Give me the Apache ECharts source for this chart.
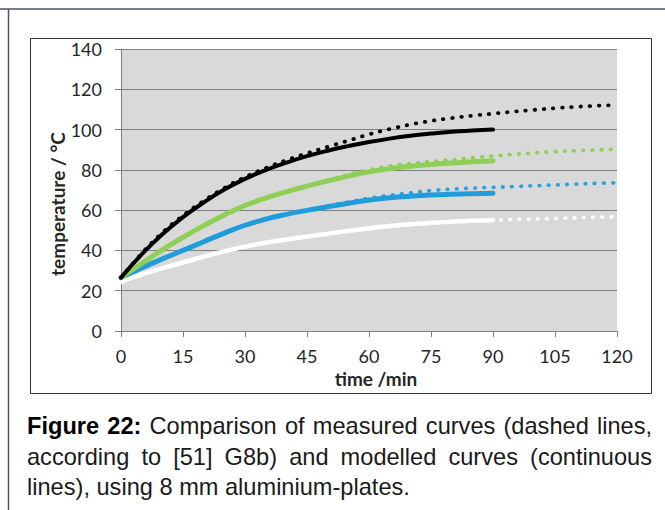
<!DOCTYPE html>
<html>
<head>
<meta charset="utf-8">
<script src="https://cdn.jsdelivr.net/npm/echarts@6/dist/echarts.min.js"></script>
<style>
  html, body { margin: 0; padding: 0; background: #fff; }
  #wrap { position: relative; width: 665px; height: 510px; overflow: hidden; }
  #chart { position: absolute; left: 0; top: 0; width: 665px; height: 510px; }
  #caption {
    position: absolute; left: 27px; top: 411px; width: 625px;
    font-family: "Liberation Sans", Arial, sans-serif; font-size: 23.6px;
    line-height: 30.5px; color: #1a1a1a;
  }
  #caption .j { text-align: justify; text-align-last: justify; }
  #caption b { color: #000; }
</style>
</head>
<body>
<div id="wrap">
  <div id="chart"></div>
  <div id="caption">
    <div class="j"><b>Figure 22:</b> Comparison of measured curves (dashed lines,</div>
    <div class="j">according to [51] G8b) and modelled curves (continuous</div>
    <div>lines), using 8 mm aluminium-plates.</div>
  </div>
</div>
<script>
// time grids (min)
const modelTime = [0, 5, 10, 15, 20, 25, 30, 35, 40, 45, 50, 55, 60, 65, 70, 75, 80, 85, 90];
const measTime = [0, 5, 10, 15, 20, 25, 30, 35, 40, 45, 50, 55, 60, 65, 70, 75, 80, 85, 90, 95, 100, 105, 110, 115, 120];

// modelled temperatures (°C), continuous lines
const modelBlack = [26.5, 38, 48, 56.5, 63.8, 70.2, 75.5, 79.9, 83.6, 86.8, 89.5, 91.8, 93.8, 95.5, 96.9, 98, 98.9, 99.5, 100];
const modelGreen = [26.5, 33.5, 40.3, 46.5, 52.3, 57.6, 62.3, 66, 69.1, 71.9, 74.5, 76.9, 79, 80.6, 81.8, 82.7, 83.4, 84, 84.4];
const modelBlue = [26.5, 31.3, 35.8, 40, 44.3, 48.6, 52.5, 55.5, 57.9, 59.9, 61.7, 63.4, 65, 66.1, 66.9, 67.5, 67.9, 68.2, 68.4];
const modelWhite = [24.5, 28.1, 31.2, 34, 36.9, 39.6, 41.9, 43.8, 45.4, 46.9, 48.3, 49.7, 51, 52.1, 53, 53.7, 54.3, 54.7, 55];

// measured temperatures (°C), dotted lines
const measBlack = [26.5, 38.5, 48.8, 57.3, 64.6, 71, 76.4, 80.9, 84.8, 88.2, 91.4, 94.5, 97.6, 100.2, 102.5, 104.3, 105.7, 106.9, 107.9, 108.9, 109.8, 110.6, 111.3, 111.8, 112.2];
const measGreen = [26.5, 33.2, 40, 46.2, 52, 57.3, 62, 65.8, 69, 72, 74.9, 77.6, 80, 81.9, 83.1, 84.1, 85, 86, 86.9, 87.7, 88.4, 89, 89.5, 89.9, 90.2];
const measBlue = [26.5, 31.1, 35.6, 39.8, 44.1, 48.4, 52.3, 55.4, 57.9, 60, 62.1, 64, 65.9, 67.4, 68.6, 69.7, 70.4, 70.9, 71.3, 71.7, 72.1, 72.5, 72.9, 73.3, 73.6];
const measWhite = [24.3, 27.9, 31, 33.8, 36.7, 39.4, 41.7, 43.6, 45.2, 46.7, 48.1, 49.5, 50.8, 51.9, 52.8, 53.5, 54.1, 54.6, 55, 55.3, 55.6, 55.9, 56.2, 56.5, 56.7];

// axis ticks
const xTicks = { min: 0, max: 120, step: 15 };
const yTicks = { min: 0, max: 140, step: 20 };

const pair = (ts, vs) => ts.map((t, i) => [t, vs[i]]);

const dotted = (name, color, ts, vs) => ({
  name, type: 'line', data: pair(ts, vs), symbol: 'none', smooth: 0.5, z: 2,
  lineStyle: { color, width: 3.8, type: [0.5, 8.7], cap: 'round' }
});
const solid = (name, color, ts, vs, w) => ({
  name, type: 'line', data: pair(ts, vs), symbol: 'none', smooth: 0.5, z: 3,
  lineStyle: { color, width: w, cap: 'round' }
});

const labelFont = { fontFamily: 'Lato, "Open Sans", sans-serif', fontSize: 18, color: '#262626' };
const titleFont = 'bold 19px Lato, "Open Sans", sans-serif';

const chart = echarts.init(document.getElementById('chart'), null, { renderer: 'svg' });
chart.setOption({
  animation: false,
  backgroundColor: '#fff',
  grid: { left: 121, right: 48, top: 49, bottom: 179, show: true, backgroundColor: '#d9d9d9', borderWidth: 0 },
  xAxis: {
    type: 'value', min: xTicks.min, max: xTicks.max, interval: xTicks.step,
    axisLine: { show: true, lineStyle: { color: '#808080', width: 1 } },
    axisTick: { show: true, length: 6, lineStyle: { color: '#808080' } },
    axisLabel: Object.assign({ margin: 16 }, labelFont),
    splitLine: { show: false }
  },
  yAxis: {
    type: 'value', min: yTicks.min, max: yTicks.max, interval: yTicks.step,
    axisLine: { show: true, lineStyle: { color: '#808080', width: 1 } },
    axisTick: { show: true, length: 6, lineStyle: { color: '#808080' } },
    axisLabel: Object.assign({ margin: 19 }, labelFont),
    splitLine: { show: true, lineStyle: { color: '#808080', width: 1.2 } }
  },
  graphic: [
    // figure frame
    { type: 'line', shape: { x1: 0, y1: 9, x2: 665, y2: 9 }, style: { stroke: '#4a5566', lineWidth: 1.5 } },
    { type: 'line', shape: { x1: 8.5, y1: 9, x2: 8.5, y2: 510 }, style: { stroke: '#4a5566', lineWidth: 1.5 } },
    { type: 'rect', shape: { x: 30.5, y: 38.5, width: 621, height: 355 }, style: { fill: 'none', stroke: '#333', lineWidth: 1 } },
    // axis titles
    { type: 'text', x: 376, y: 378, style: { text: 'time /min', align: 'center', verticalAlign: 'middle',
      font: titleFont, fill: '#262626' } },
    { type: 'text', x: 57.5, y: 204, rotation: Math.PI / 2, style: { text: 'temperature / °C', align: 'center', verticalAlign: 'middle',
      font: titleFont, fill: '#262626' } }
  ],
  series: [
    dotted('measured white', '#ffffff', measTime, measWhite),
    dotted('measured blue', '#2aa2dc', measTime, measBlue),
    dotted('measured green', '#8fcf55', measTime, measGreen),
    dotted('measured black', '#000000', measTime, measBlack),
    solid('modelled white', '#ffffff', modelTime, modelWhite, 4.5),
    solid('modelled blue', '#1f9ddb', modelTime, modelBlue, 5),
    solid('modelled green', '#8fcf55', modelTime, modelGreen, 5),
    solid('modelled black', '#000000', modelTime, modelBlack, 4)
  ]
});
</script>
</body>
</html>
